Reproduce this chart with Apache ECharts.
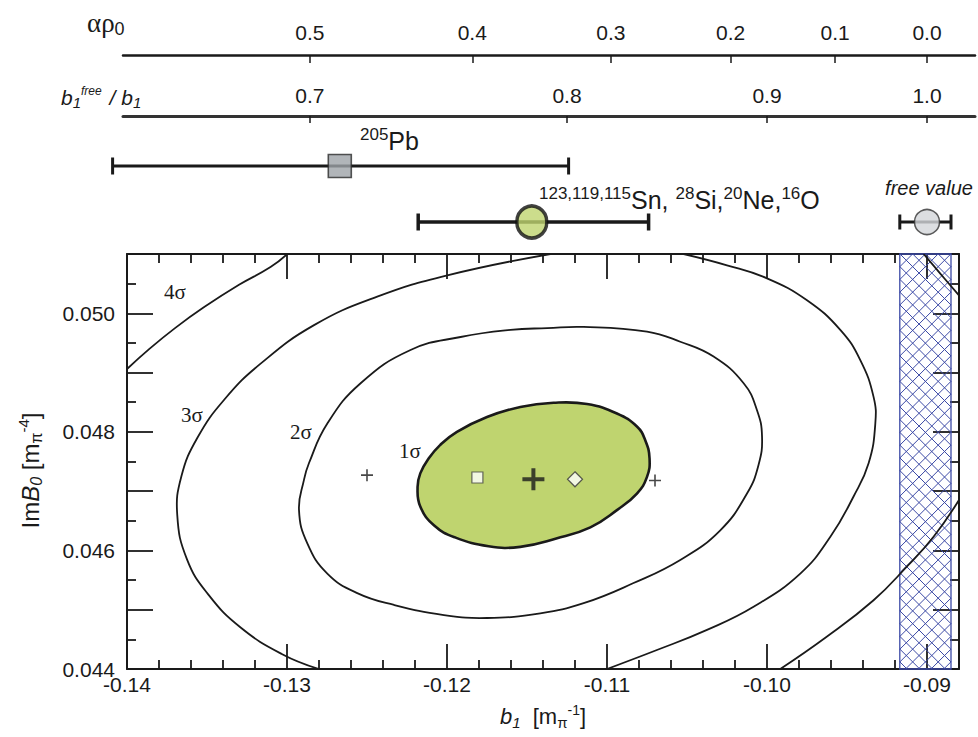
<!DOCTYPE html>
<html>
<head>
<meta charset="utf-8">
<script src="https://cdn.jsdelivr.net/npm/echarts@6.0.0/dist/echarts.min.js"></script>
<style>
html,body{margin:0;padding:0;background:#ffffff;}
#chart{width:978px;height:737px;}
</style>
</head>
<body>
<div id="chart"></div>
<script>
// ================= DATA =================
const b1Min = -0.14, b1Max = -0.088;          // main x range  (b1 [m_pi^-1])
const imB0Min = 0.044, imB0Max = 0.051;       // main y range  (ImB0 [m_pi^-4])

// upper auxiliary scales
const alphaRhoTicks = [0.5, 0.4, 0.3, 0.2, 0.1, 0.0];
const ratioTicks = [0.7, 0.8, 0.9, 1.0];
const b1Free = -0.090;          // free b1 value
const alphaSlope = 0.6;         // b1free/b1 = 1 - 0.6 * alpha*rho0

// chi^2 contours  [b1, ImB0]
const sigma1 = [
  [-0.12184,0.04707],[-0.12167,0.04730],[-0.12115,0.04755],[-0.12042,0.04778],[-0.11938,0.04800],
  [-0.11750,0.04825],[-0.11542,0.04842],[-0.11334,0.04849],[-0.11125,0.04847],[-0.10938,0.04831],
  [-0.10813,0.04809],[-0.10761,0.04786],[-0.10734,0.04755],[-0.10750,0.04724],[-0.10813,0.04696],
  [-0.10938,0.04668],[-0.11104,0.04639],[-0.11317,0.04620],[-0.11542,0.04606],[-0.11740,0.04607],
  [-0.11950,0.04622],[-0.12080,0.04642],[-0.12167,0.04674]
];
const sigma2 = [
  [-0.12863,0.04747],[-0.12748,0.04814],[-0.12540,0.04882],[-0.12228,0.04938],[-0.11915,0.04960],
  [-0.11603,0.04972],[-0.11373,0.04975],[-0.11146,0.04977],[-0.10750,0.04969],[-0.10542,0.04952],
  [-0.10334,0.04927],[-0.10146,0.04882],[-0.10063,0.04837],[-0.10031,0.04792],[-0.10053,0.04744],
  [-0.10125,0.04696],[-0.10292,0.04634],[-0.10542,0.04584],[-0.10834,0.04545],[-0.11146,0.04511],
  [-0.11417,0.04494],[-0.11748,0.04486],[-0.12019,0.04491],[-0.12331,0.04508],[-0.12561,0.04528],
  [-0.12748,0.04561],[-0.12873,0.04612],[-0.12925,0.04668],[-0.12894,0.04719]
];
const sigma3Left = [
  [-0.12800,0.04400],[-0.13030,0.04425],[-0.13290,0.04470],[-0.13490,0.04525],[-0.13625,0.04585],
  [-0.13686,0.04660],[-0.13660,0.04725],[-0.13560,0.04790],[-0.13390,0.04855],[-0.13165,0.04915],
  [-0.12831,0.04980],[-0.12436,0.05028],[-0.11998,0.05064],[-0.11354,0.05100]
];
const sigma3Right = [
  [-0.10521,0.05100],[-0.10250,0.05081],[-0.10000,0.05059],[-0.09750,0.05022],[-0.09542,0.04972],
  [-0.09417,0.04921],[-0.09334,0.04859],[-0.09323,0.04814],[-0.09365,0.04747],[-0.09459,0.04691],
  [-0.09604,0.04623],[-0.09792,0.04561],[-0.10084,0.04505],[-0.10375,0.04466],[-0.10688,0.04432],
  [-0.11000,0.04400]
];
const sigma4TopLeft = [
  [-0.14000,0.04906],[-0.13860,0.04940],[-0.13700,0.04975],[-0.13520,0.05010],
  [-0.13300,0.05048],[-0.13103,0.05078],[-0.12998,0.05100]
];
const sigma4TopRight = [[-0.09021,0.05100],[-0.08917,0.05067],[-0.08800,0.05030]];
const sigma4BottomRight = [
  [-0.08800,0.04685],[-0.08959,0.04623],[-0.09125,0.04573],[-0.09334,0.04516],[-0.09629,0.04454],
  [-0.09917,0.04400]
];

// points inside the plot
const bestFit = [[-0.1146, 0.04720]];
const squarePoint = [[-0.1181, 0.04723]];
const diamondPoint = [[-0.1120, 0.04720]];
const smallCrosses = [[-0.1250, 0.04727], [-0.1070, 0.04718]];

// horizontal error bars above the plot: 205Pb, Sn/Si/Ne/O, free value
const errorRows = ['Pb', 'Sn', 'Sn'];
const errorCenter = [-0.1267, -0.1147, -0.0900];
const errorLow = [-0.1409, -0.1218, -0.0917];
const errorHigh = [-0.1124, -0.1074, -0.0885];

// hatched band of the free value
const freeBand = [[errorLow[2], errorHigh[2]]];

// ================= STYLE =================
const SANS = '"Liberation Sans", Arial, Helvetica, sans-serif';
const SERIF = '"Liberation Serif", "Times New Roman", serif';
const INK = '#1a1a1a';
const HATCH = '#3c4aa6';
const GREEN = '#bfd46f';
const errorBarStyles = [
  {width: 3, cap: 17},
  {width: 3.5, cap: 17},
  {width: 3, cap: 15}
];

const alphaTickB1 = alphaRhoTicks.map(a => b1Free / (1 - alphaSlope * a));
const ratioTickB1 = ratioTicks.map(r => b1Free / r);
const pxPerUnit = 16000;
const auxMin = b1Min - 4 / pxPerUnit;
const auxMax = b1Min + 848 / pxPerUnit;

function lookupLabel(v, positions, labels) {
  for (let k = 0; k < positions.length; k++) {
    if (Math.abs(positions[k] - v) < 1e-6) return labels[k].toFixed(1);
  }
  return '';
}

const richAxis = {
  r: {fontFamily: SANS, fontSize: 22, color: INK},
  i: {fontFamily: SANS, fontSize: 22, fontStyle: 'italic', color: INK},
  isub: {fontFamily: SANS, fontSize: 15, fontStyle: 'italic', color: INK, padding: [11, 0, 0, 0]},
  sub: {fontFamily: SANS, fontSize: 15, color: INK, padding: [11, 0, 0, 0]},
  sup: {fontFamily: SANS, fontSize: 14, color: INK, padding: [0, 0, 13, 0]}
};
const richAxisY = {
  r: {fontFamily: SANS, fontSize: 24, color: INK},
  i: {fontFamily: SANS, fontSize: 24, fontStyle: 'italic', color: INK},
  isub: {fontFamily: SANS, fontSize: 16, fontStyle: 'italic', color: INK, padding: [12, 0, 0, 0]},
  sub: {fontFamily: SANS, fontSize: 16, color: INK, padding: [12, 0, 0, 0]},
  sup: {fontFamily: SANS, fontSize: 15, color: INK, padding: [0, 0, 14, 0]}
};

function curveRender(points, closed, fill, lw) {
  return function (params, api) {
    if (params.dataIndex !== 0) return null;
    const pts = points.map(p => api.coord(p));
    return {
      type: closed ? 'polygon' : 'polyline',
      shape: {points: pts, smooth: 0.45},
      style: {fill: fill || 'none', stroke: INK, lineWidth: lw}
    };
  };
}
const curveSeries = (points, closed, fill, lw, z) => ({
  type: 'custom', xAxisIndex: 0, yAxisIndex: 0, data: points, clip: true, silent: true,
  renderItem: curveRender(points, closed, fill, lw), z: z
});

function renderHatch(params, api) {
  const cs = params.coordSys;
  const xa = api.coord([api.value(0), imB0Min])[0];
  const xb = api.coord([api.value(1), imB0Min])[0];
  const x0 = Math.min(xa, xb), x1 = Math.max(xa, xb);
  const y0 = cs.y, y1 = cs.y + cs.height;
  const step = 12.75;
  const ls = {stroke: HATCH, lineWidth: 1};
  const children = [];
  for (let c = y0 - x1; c <= y1 - x0; c += step) {
    const a = Math.max(x0, y0 - c), b = Math.min(x1, y1 - c);
    if (b > a) children.push({type: 'line', shape: {x1: a, y1: a + c, x2: b, y2: b + c}, style: ls});
  }
  for (let c = x0 + y0; c <= x1 + y1; c += step) {
    const a = Math.max(x0, c - y1), b = Math.min(x1, c - y0);
    if (b > a) children.push({type: 'line', shape: {x1: a, y1: c - a, x2: b, y2: c - b}, style: ls});
  }
  children.push({type: 'rect', shape: {x: x0, y: y0, width: x1 - x0, height: y1 - y0},
    style: {fill: 'none', stroke: HATCH, lineWidth: 1.3}});
  return {type: 'group', children: children};
}

function renderErrorBar(params, api) {
  const st = errorBarStyles[params.dataIndex];
  const a = api.coord([api.value(0), api.value(2)]);
  const b = api.coord([api.value(1), api.value(2)]);
  const h = st.cap / 2;
  const ls = {stroke: INK, lineWidth: st.width};
  return {type: 'group', children: [
    {type: 'line', shape: {x1: a[0], y1: a[1], x2: b[0], y2: b[1]}, style: ls},
    {type: 'line', shape: {x1: a[0], y1: a[1] - h, x2: a[0], y2: a[1] + h}, style: ls},
    {type: 'line', shape: {x1: b[0], y1: b[1] - h, x2: b[0], y2: b[1] + h}, style: ls}
  ]};
}

const PLUS_BOLD = 'path://M9,0H13V9H22V13H13V22H9V13H0V9H9Z';
const PLUS_THIN = 'path://M5.2,0H6.8V5.2H12V6.8H6.8V12H5.2V6.8H0V5.2H5.2Z';

const mainTickStyle = {color: INK, width: 1.8};
const mainX = (pos, showLabel) => ({
  type: 'value', gridIndex: 0, position: pos, min: b1Min, max: b1Max, interval: 0.01,
  axisLine: {show: true, onZero: false, lineStyle: {color: INK, width: 2}},
  axisTick: {show: true, inside: true, length: 25, lineStyle: mainTickStyle},
  minorTick: {show: true, splitNumber: 5, length: 9, lineStyle: mainTickStyle},
  splitLine: {show: false},
  axisLabel: {show: showLabel, showMaxLabel: false, formatter: v => v.toFixed(2),
    fontFamily: SANS, fontSize: 21, color: INK, margin: 5}
});
const mainY = (pos, showLabel) => ({
  type: 'value', gridIndex: 0, position: pos, min: imB0Min, max: imB0Max, interval: 0.001,
  axisLine: {show: true, onZero: false, lineStyle: {color: INK, width: 2}},
  axisTick: {show: true, inside: true, length: 26, lineStyle: mainTickStyle},
  minorTick: {show: true, splitNumber: 2, length: 9, lineStyle: mainTickStyle},
  splitLine: {show: false},
  axisLabel: {show: showLabel, formatter: v => (Math.round(v * 1000) % 2 === 0 ? v.toFixed(3) : ''),
    fontFamily: SANS, fontSize: 21, color: INK, margin: 12}
});

const xAxes = [
  Object.assign(mainX('bottom', true), {
    name: '{i|b}{isub|1}{r|  [m}{sub|π}{sup|-1}{r|]}', nameLocation: 'middle', nameGap: 34,
    nameTextStyle: {rich: richAxis}
  }),
  mainX('top', false),
  {
    type: 'value', gridIndex: 1, position: 'top', min: auxMin, max: auxMax,
    axisLine: {show: true, onZero: false, lineStyle: {color: INK, width: 2.5}},
    axisTick: {show: true, inside: true, length: 8, customValues: alphaTickB1, lineStyle: {color: INK, width: 1.5}},
    minorTick: {show: false}, splitLine: {show: false},
    axisLabel: {show: true, customValues: alphaTickB1, formatter: v => lookupLabel(v, alphaTickB1, alphaRhoTicks),
      fontFamily: SANS, fontSize: 21, color: INK, margin: 12}
  },
  {
    type: 'value', gridIndex: 2, position: 'top', min: auxMin, max: auxMax,
    axisLine: {show: true, onZero: false, lineStyle: {color: '#333', width: 3}},
    axisTick: {show: true, inside: true, length: 7, customValues: ratioTickB1, lineStyle: {color: INK, width: 1.5}},
    minorTick: {show: false}, splitLine: {show: false},
    axisLabel: {show: true, customValues: ratioTickB1, formatter: v => lookupLabel(v, ratioTickB1, ratioTicks),
      fontFamily: SANS, fontSize: 21, color: INK, margin: 10}
  },
  {type: 'value', gridIndex: 3, min: b1Min, max: b1Max, show: false}
];

const yAxes = [
  Object.assign(mainY('left', true), {
    name: '{r|Im}{i|B}{isub|0}{r| [m}{sub|π}{sup|-4}{r|]}', nameLocation: 'middle', nameGap: 82,
    nameRotate: 90, nameTextStyle: {rich: richAxisY, padding: [0, 18, 0, 0]}
  }),
  mainY('right', false),
  {type: 'value', gridIndex: 1, show: false},
  {type: 'value', gridIndex: 2, show: false},
  {type: 'category', gridIndex: 3, data: ['Sn', 'Pb'], show: false}
];

const series = [
  {type: 'custom', xAxisIndex: 0, yAxisIndex: 0, data: freeBand, renderItem: renderHatch, z: 1, silent: true},
  curveSeries(sigma1, true, GREEN, 2.6, 3),
  curveSeries(sigma2, true, null, 1.8, 4),
  curveSeries(sigma3Left, false, null, 1.8, 4),
  curveSeries(sigma3Right, false, null, 1.8, 4),
  curveSeries(sigma4TopLeft, false, null, 1.8, 4),
  curveSeries(sigma4TopRight, false, null, 1.8, 4),
  curveSeries(sigma4BottomRight, false, null, 1.8, 4),
  {type: 'scatter', xAxisIndex: 0, yAxisIndex: 0, data: smallCrosses, symbol: PLUS_THIN, symbolSize: 12,
    itemStyle: {color: INK}, z: 6, silent: true},
  {type: 'scatter', xAxisIndex: 0, yAxisIndex: 0, data: bestFit, symbol: PLUS_BOLD, symbolSize: 22,
    itemStyle: {color: INK}, z: 6, silent: true},
  {type: 'scatter', xAxisIndex: 0, yAxisIndex: 0, data: squarePoint, symbol: 'rect', symbolSize: 11,
    itemStyle: {color: '#ffffff', borderColor: '#444', borderWidth: 1.2}, z: 6, silent: true},
  {type: 'scatter', xAxisIndex: 0, yAxisIndex: 0, data: diamondPoint, symbol: 'diamond', symbolSize: 15,
    itemStyle: {color: '#ffffff', borderColor: '#333', borderWidth: 1.2}, z: 6, silent: true},
  // error bars
  {type: 'custom', xAxisIndex: 4, yAxisIndex: 4,
    data: errorLow.map((lo, i) => [lo, errorHigh[i], errorRows[i]]),
    encode: {x: [0, 1], y: 2}, renderItem: renderErrorBar, z: 3, silent: true},
  {type: 'scatter', xAxisIndex: 4, yAxisIndex: 4, data: [[errorCenter[0], errorRows[0]]], symbol: 'rect',
    symbolSize: 23, itemStyle: {color: '#9ea3a8', borderColor: '#2a2a2a', borderWidth: 1.6}, z: 5, silent: true},
  {type: 'scatter', xAxisIndex: 4, yAxisIndex: 4, data: [[errorCenter[1], errorRows[1]]], symbol: 'circle',
    symbolSize: [30, 32], itemStyle: {color: GREEN, borderColor: '#111', borderWidth: 3.5}, z: 5, silent: true},
  {type: 'scatter', xAxisIndex: 4, yAxisIndex: 4, data: [[errorCenter[2], errorRows[2]]], symbol: 'circle',
    symbolSize: 25, itemStyle: {color: '#d3d6d9', borderColor: '#333', borderWidth: 1.5}, z: 5, silent: true}
];

const supS = {fontFamily: SANS, fontSize: 17, fill: INK, padding: [0, 0, 13, 0]};
const mainS = {fontFamily: SANS, fontSize: 25, fill: INK};
const sigmaText = (x, y, t) => ({type: 'text', x: x, y: y, z: 10,
  style: {text: t, fontFamily: SERIF, fontSize: 21, fill: INK, align: 'center', verticalAlign: 'middle'}});

const graphic = [
  {type: 'text', x: 87, y: 23, z: 10, style: {
    text: '{g|αρ}{s|0}', verticalAlign: 'middle', align: 'left',
    rich: {g: {fontFamily: SERIF, fontSize: 27, fill: INK}, s: {fontFamily: SANS, fontSize: 18, fill: INK, padding: [11, 0, 0, 0]}}
  }},
  {type: 'text', x: 61, y: 97, z: 10, style: {
    text: '{b|b}{s|1}{f|free}{b| / b}{s|1}', verticalAlign: 'middle', align: 'left',
    rich: {
      b: {fontFamily: SANS, fontSize: 21, fontStyle: 'italic', fill: INK},
      s: {fontFamily: SANS, fontSize: 15, fontStyle: 'italic', fill: INK, padding: [10, 0, 0, 0]},
      f: {fontFamily: SANS, fontSize: 12, fontStyle: 'italic', fill: INK, padding: [0, 2, 12, 0]}
    }
  }},
  {type: 'text', x: 360, y: 141, z: 10, style: {
    text: '{u|205}{m|Pb}', verticalAlign: 'middle', align: 'left', rich: {u: supS, m: mainS}
  }},
  {type: 'text', x: 539, y: 200, z: 10, style: {
    text: '{u|123,119,115}{m|Sn, }{u|28}{m|Si,}{u|20}{m|Ne,}{u|16}{m|O}', verticalAlign: 'middle', align: 'left',
    rich: {u: supS, m: mainS}
  }},
  {type: 'text', x: 929, y: 188, z: 10, style: {
    text: 'free value', fontFamily: SANS, fontSize: 20, fontStyle: 'italic', fill: INK,
    align: 'center', verticalAlign: 'middle'
  }},
  sigmaText(175, 292, '4σ'),
  sigmaText(192, 415, '3σ'),
  sigmaText(301, 432, '2σ'),
  sigmaText(410, 451, '1σ')
];

const chart = echarts.init(document.getElementById('chart'), null, {renderer: 'svg'});
chart.setOption({
  animation: false,
  backgroundColor: '#ffffff',
  grid: [
    {left: 127, right: 19, top: 254, bottom: 68},
    {left: 123, right: 3, top: 55, height: 1},
    {left: 123, right: 3, top: 116, height: 1},
    {left: 127, right: 19, top: 138, height: 112}
  ],
  xAxis: xAxes,
  yAxis: yAxes,
  series: series,
  graphic: graphic
});
</script>
</body>
</html>
